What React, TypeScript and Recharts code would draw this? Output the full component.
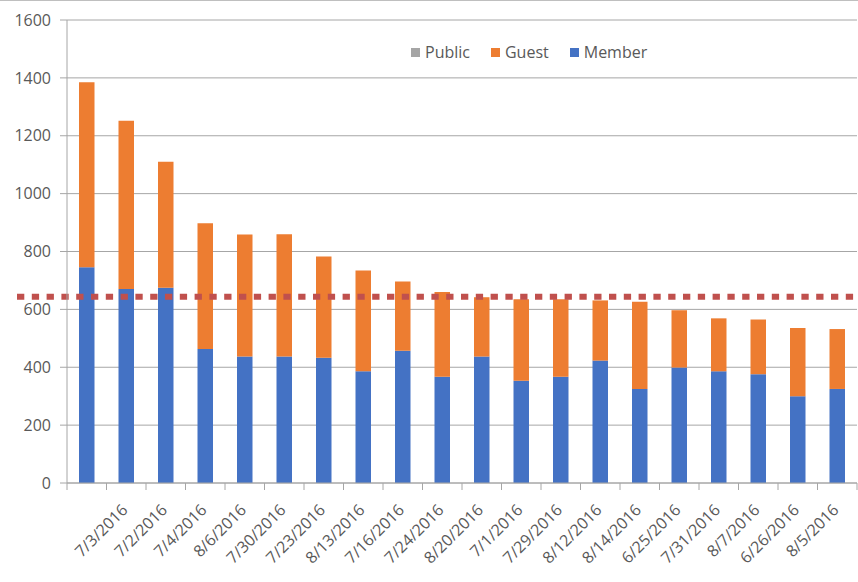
import { BarChart, Bar, XAxis, YAxis, CartesianGrid, ReferenceLine } from "recharts"

const dates = [
  "", "7/3/2016", "7/2/2016", "7/4/2016", "8/6/2016", "7/30/2016", "7/23/2016", "8/13/2016",
  "7/16/2016", "7/24/2016", "8/20/2016", "7/1/2016", "7/29/2016", "8/12/2016", "8/14/2016",
  "6/25/2016", "7/31/2016", "8/7/2016", "6/26/2016", "8/5/2016",
]
const member = [746, 670, 675, 463, 437, 437, 433, 386, 457, 367, 437, 353, 367, 423, 325, 399, 386, 376, 300, 325]
const guest = [639, 582, 435, 435, 422, 423, 350, 348, 239, 293, 205, 282, 268, 208, 301, 198, 183, 189, 236, 207]
const publicCount = [0, 0, 0, 0, 0, 0, 0, 0, 0, 0, 0, 0, 0, 0, 0, 0, 0, 0, 0, 0]
const yTicks = [0, 200, 400, 600, 800, 1000, 1200, 1400, 1600]
const targetLine = 644

const series = [
  { key: "member", name: "Member", color: "#4472C4" },
  { key: "guest", name: "Guest", color: "#ED7D31" },
  { key: "public", name: "Public", color: "#A5A5A5" },
]
const legendOrder = ["public", "guest", "member"]

const data = dates.map((d, i) => ({
  id: "c" + i,
  date: d,
  member: member[i],
  guest: guest[i],
  public: publicCount[i],
}))

const FONT = "'Open Sans', 'Segoe UI', sans-serif"
const TEXT = "#595959"
const AXIS = "#a6a6a6"
const W = 858
const H = 582
const M = { top: 20, right: 1, bottom: 9, left: 7 }
const Y_W = 60
const BAND = (W - M.left - M.right - Y_W) / dates.length

function DateTick(props: any) {
  const { x, y, payload, index } = props
  const label = dates[index] ?? ""
  const last = index === dates.length - 1
  return (
    <g>
      <line x1={x - BAND / 2} y1={y} x2={x - BAND / 2} y2={y + 7} stroke={AXIS} />
      {last && <line x1={x + BAND / 2} y1={y} x2={x + BAND / 2} y2={y + 7} stroke={AXIS} />}
      {label && (
        <text
          x={x + 2.5}
          y={y + 28}
          textAnchor="end"
          transform={`rotate(-45 ${x + 2.5} ${y + 28})`}
          fontSize={16}
          fontFamily={FONT}
          fill={TEXT}
        >
          {label}
        </text>
      )}
      <title>{payload?.value}</title>
    </g>
  )
}

function DashedTarget(props: any) {
  const { x1, y1, x2, y2 } = props
  return (
    <line
      x1={x1 - 50}
      y1={y1}
      x2={x2 + 2}
      y2={y2}
      stroke="#C0504D"
      strokeWidth={6}
      strokeDasharray="7.3 7.5"
    />
  )
}

function LegendBox() {
  return (
    <div
      style={{
        position: "absolute",
        left: 411,
        top: 41,
        display: "flex",
        alignItems: "center",
        fontFamily: FONT,
        fontSize: 16,
        color: TEXT,
        whiteSpace: "nowrap",
      }}
    >
      {legendOrder.map((k) => {
        const s = series.find((x) => x.key === k)!
        return (
          <div key={k} style={{ display: "flex", alignItems: "center", marginRight: 21 }}>
            <span style={{ width: 9, height: 9, background: s.color, marginRight: 5, display: "inline-block" }} />
            <span>{s.name}</span>
          </div>
        )
      })}
    </div>
  )
}

export default function App() {
  return (
    <div style={{ position: "absolute", left: 0, top: 0, width: W, height: H, background: "#fff" }}>
      <div style={{ position: "absolute", left: 0, top: 0, width: W, height: 1, background: "#bfbfbf" }} />
      <BarChart width={W} height={H} data={data} margin={M} barSize={15.5}>
        <CartesianGrid vertical={false} stroke={AXIS} />
        <XAxis
          dataKey="id"
          interval={0}
          height={90}
          stroke={AXIS}
          tickLine={false}
          tickSize={0}
          tickMargin={0}
          tick={<DateTick />}
        />
        <YAxis
          width={Y_W}
          domain={[0, 1600]}
          ticks={yTicks}
          stroke={AXIS}
          tickSize={7}
          tickMargin={9}
          tick={{ fill: TEXT, fontSize: 16, fontFamily: FONT }}
        />
        {series.map((s) => (
          <Bar key={s.key} dataKey={s.key} name={s.name} stackId="a" fill={s.color} isAnimationActive={false} />
        ))}
        <ReferenceLine y={targetLine} shape={<DashedTarget />} />
      </BarChart>
      <LegendBox />
    </div>
  )
}
